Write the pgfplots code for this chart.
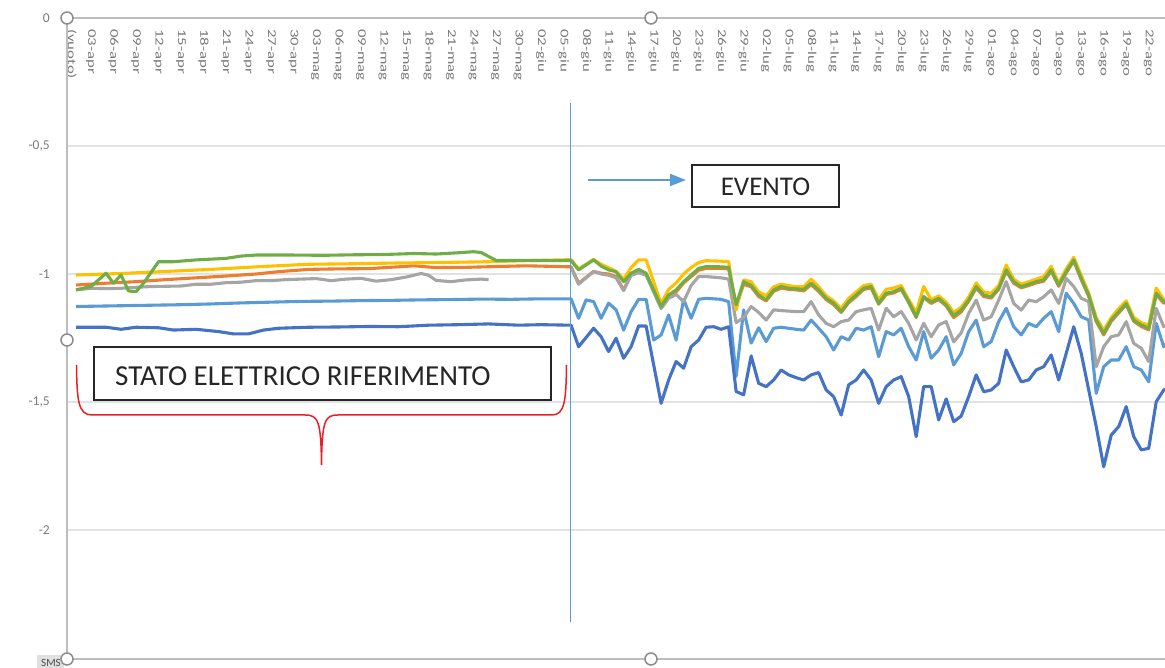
\documentclass[border=0pt]{standalone}
\usepackage{fontspec}
\setmainfont{Carlito}
\usepackage{pgfplots}
\pgfplotsset{compat=1.18}
\usetikzlibrary{arrows.meta}
\definecolor{lb}{HTML}{5B9BD5}
\definecolor{orc}{HTML}{ED7D31}
\definecolor{gyc}{HTML}{A5A5A5}
\definecolor{yec}{HTML}{FFC000}
\definecolor{db}{HTML}{4472C4}
\definecolor{grc}{HTML}{70AD47}
\definecolor{tickgray}{HTML}{7A7A7A}
\definecolor{gridgray}{HTML}{E2E2E2}
\definecolor{axgray}{HTML}{BDBDBD}
\definecolor{handlegray}{HTML}{8C8C8C}
\definecolor{bracered}{HTML}{E8202A}
\begin{document}
\begin{tikzpicture}
\useasboundingbox (0pt,0pt) rectangle (1165pt,668pt);
\clip (0pt,0pt) rectangle (1165pt,668pt);
\begin{axis}[
  at={(67pt,10pt)}, anchor=south west,
  scale only axis, width=1168pt, height=640pt,
  xmin=-3.2, xmax=152.5, ymin=-2.5, ymax=0,
  axis line style={draw=none},
  ymajorgrids, grid style={draw=gridgray, line width=1.5pt},
  major tick length=0pt,
  xtick={-2.6,0,3,...,141},
  xticklabels={(vuoto),03-apr,06-apr,09-apr,12-apr,15-apr,18-apr,21-apr,24-apr,27-apr,30-apr,03-mag,06-mag,09-mag,12-mag,15-mag,18-mag,21-mag,24-mag,27-mag,30-mag,02-giu,05-giu,08-giu,11-giu,14-giu,17-giu,20-giu,23-giu,26-giu,29-giu,02-lug,05-lug,08-lug,11-lug,14-lug,17-lug,20-lug,23-lug,26-lug,29-lug,01-ago,04-ago,07-ago,10-ago,13-ago,16-ago,19-ago,22-ago},
  xticklabel pos=upper,
  xticklabel style={yshift=-11pt, rotate=-90, anchor=west, inner sep=0pt, xscale=1.4, font=\fontsize{12}{12}\selectfont, text=tickgray},
  ytick={-2,-1.5,-1,-0.5,0},
  yticklabels={-2,{-1,5},-1,{-0,5},0},
  yticklabel style={anchor=east, inner sep=1pt, xshift=-16pt, font=\fontsize{13.5}{13.5}\selectfont, text=tickgray},
  every axis plot/.append style={line width=3.1pt, line join=round, mark=none},
]
% light blue
\addplot[lb] coordinates {(-2,-1.127) (4,-1.124) (8,-1.122) (12,-1.12) (16,-1.117) (20,-1.113) (24,-1.11) (28,-1.107) (32,-1.106) (36,-1.104) (40,-1.103) (44,-1.101) (48,-1.1) (52,-1.098) (56,-1.099) (60,-1.097) (64,-1.097)
(65,-1.173) (66,-1.101) (67,-1.108) (68,-1.173) (69,-1.114) (70,-1.14) (71,-1.219) (72,-1.147) (73,-1.099) (74,-1.099) (75,-1.258) (76,-1.238) (77,-1.16) (78,-1.258) (79,-1.099) (80,-1.173) (81,-1.099) (82,-1.095) (83,-1.097) (84,-1.099) (85,-1.108) (86,-1.40) (87,-1.14) (88,-1.27) (89,-1.21) (90,-1.264) (91,-1.212) (92,-1.208) (93,-1.212) (94,-1.216) (95,-1.219) (96,-1.18) (97,-1.212) (98,-1.245) (99,-1.297) (100,-1.245) (101,-1.258) (102,-1.212) (103,-1.219) (104,-1.206) (105,-1.323) (106,-1.225) (107,-1.238) (108,-1.212) (109,-1.284) (110,-1.336) (111,-1.225) (112,-1.329) (113,-1.297) (114,-1.245) (115,-1.355) (116,-1.31) (117,-1.225) (118,-1.18) (119,-1.284) (120,-1.264) (121,-1.186) (122,-1.134) (123,-1.206) (124,-1.238) (125,-1.193) (126,-1.206) (127,-1.173) (128,-1.147) (129,-1.225) (130,-1.075) (131,-1.115) (132,-1.167) (133,-1.18) (134,-1.466) (135,-1.362) (136,-1.336) (137,-1.336) (138,-1.284) (139,-1.362) (140,-1.375) (141,-1.421) (142,-1.193) (143,-1.284) (144,-1.25)};
% orange
\addplot[orc] coordinates {(-2,-1.043) (2,-1.036) (6,-1.03) (10,-1.022) (14,-1.015) (18,-1.008) (22,-1.0) (25,-0.991) (29,-0.982) (33,-0.98) (37,-0.979) (41,-0.972) (43,-0.968) (46,-0.975) (50,-0.974) (54,-0.971) (58,-0.968) (64,-0.972)
(65,-1.036) (67,-0.99) (68,-0.997) (69,-1.0) (70,-1.01) (71,-1.062) (72,-1.0) (73,-0.99) (74,-1.0) (76,-1.13) (77,-1.09) (78,-1.07) (79,-1.035) (80,-1.01) (81,-0.985) (82,-0.978) (84,-0.978) (85,-0.98) (86,-1.125) (87,-1.04) (88,-1.05) (89,-1.088) (90,-1.105) (91,-1.068) (92,-1.055) (93,-1.06) (94,-1.062) (95,-1.066) (96,-1.042) (97,-1.068) (98,-1.1) (99,-1.12) (100,-1.15) (101,-1.112) (102,-1.088) (103,-1.06) (104,-1.055) (105,-1.118) (106,-1.08) (107,-1.074) (108,-1.06) (109,-1.112) (110,-1.17) (111,-1.092) (112,-1.115) (113,-1.1) (114,-1.125) (115,-1.17) (116,-1.148) (117,-1.106) (118,-1.055) (119,-1.088) (120,-1.094) (121,-1.06) (122,-0.99) (123,-1.036) (124,-1.054) (125,-1.045) (126,-1.035) (127,-1.028) (128,-0.99) (129,-1.048) (130,-0.996) (131,-0.95) (132,-1.022) (133,-1.088) (134,-1.186) (135,-1.238) (136,-1.185) (137,-1.152) (138,-1.12) (139,-1.185) (140,-1.205) (141,-1.218) (142,-1.08) (143,-1.114) (144,-1.105)};
% gray (reference period)
\addplot[gyc] coordinates {(-2,-1.062) (0,-1.056) (2,-1.057) (4,-1.056) (6,-1.052) (8,-1.049) (10,-1.048) (12,-1.047) (14,-1.04) (16,-1.04) (18,-1.034) (20,-1.032) (22,-1.026) (24,-1.026) (26,-1.022) (28,-1.02) (30,-1.018) (32,-1.026) (34,-1.02) (36,-1.017) (38,-1.028) (40,-1.022) (42,-1.012) (44,-0.998) (45,-1.005) (46,-1.025) (48,-1.03) (50,-1.023) (52,-1.02) (53,-1.022)};
% gray (after event)
\addplot[gyc] coordinates {(64,-0.975) (65,-1.04) (67,-0.99) (68,-1.0) (69,-1.005) (70,-1.015) (71,-1.065) (72,-1.005) (73,-0.995) (74,-1.005) (76,-1.135) (77,-1.095) (78,-1.08) (79,-1.108) (80,-1.045) (81,-1.01) (82,-1.01) (84,-1.015) (85,-1.02) (86,-1.19) (87,-1.17) (88,-1.127) (89,-1.15) (90,-1.18) (91,-1.14) (92,-1.143) (93,-1.145) (94,-1.147) (95,-1.147) (96,-1.108) (97,-1.16) (98,-1.193) (99,-1.206) (100,-1.186) (101,-1.18) (102,-1.147) (103,-1.14) (104,-1.134) (105,-1.219) (106,-1.134) (107,-1.167) (108,-1.147) (109,-1.193) (110,-1.258) (111,-1.193) (112,-1.245) (113,-1.199) (114,-1.186) (115,-1.265) (116,-1.23) (117,-1.154) (118,-1.102) (119,-1.18) (120,-1.167) (121,-1.102) (122,-1.03) (123,-1.115) (124,-1.141) (125,-1.102) (126,-1.108) (127,-1.089) (128,-1.062) (129,-1.115) (130,-1.017) (131,-1.049) (132,-1.095) (133,-1.108) (134,-1.362) (135,-1.284) (136,-1.245) (137,-1.238) (138,-1.186) (139,-1.271) (140,-1.29) (141,-1.342) (142,-1.134) (143,-1.206) (144,-1.19)};
% yellow
\addplot[yec] coordinates {(-2,-1.004) (4,-0.998) (10,-0.99) (16,-0.982) (22,-0.972) (29,-0.962) (35,-0.96) (41,-0.957) (47,-0.955) (53,-0.952) (58,-0.948) (64,-0.944)
(65,-0.98) (67,-0.943) (68,-0.962) (69,-0.975) (70,-0.99) (71,-1.02) (72,-0.975) (73,-0.945) (74,-0.945) (76,-1.115) (77,-1.06) (78,-1.035) (79,-1.0) (80,-0.975) (81,-0.955) (82,-0.948) (84,-0.95) (85,-0.952) (86,-1.14) (87,-1.023) (88,-1.03) (89,-1.07) (90,-1.085) (91,-1.05) (92,-1.04) (93,-1.045) (94,-1.05) (95,-1.05) (96,-1.02) (97,-1.05) (98,-1.085) (99,-1.105) (100,-1.135) (101,-1.095) (102,-1.07) (103,-1.045) (104,-1.04) (105,-1.1) (106,-1.06) (107,-1.055) (108,-1.045) (109,-1.1) (110,-1.15) (111,-1.049) (112,-1.1) (113,-1.085) (114,-1.11) (115,-1.15) (116,-1.13) (117,-1.09) (118,-1.035) (119,-1.07) (120,-1.075) (121,-1.045) (122,-0.965) (123,-1.02) (124,-1.04) (125,-1.03) (126,-1.02) (127,-1.01) (128,-0.97) (129,-1.035) (130,-0.98) (131,-0.935) (132,-1.005) (133,-1.075) (134,-1.17) (135,-1.22) (136,-1.17) (137,-1.135) (138,-1.105) (139,-1.17) (140,-1.19) (141,-1.2) (142,-1.055) (143,-1.1) (144,-1.09)};
% dark blue
\addplot[db] coordinates {(-2,-1.208) (2,-1.208) (4,-1.216) (6,-1.208) (9,-1.21) (11,-1.219) (14,-1.216) (17,-1.225) (19,-1.234) (21,-1.234) (23,-1.219) (25,-1.212) (29,-1.208) (33,-1.207) (37,-1.205) (41,-1.206) (45,-1.2) (49,-1.198) (53,-1.195) (57,-1.2) (60,-1.198) (64,-1.2)
(65,-1.284) (67,-1.212) (68,-1.245) (69,-1.303) (70,-1.251) (71,-1.329) (72,-1.284) (73,-1.203) (74,-1.203) (76,-1.505) (77,-1.414) (78,-1.342) (79,-1.368) (80,-1.284) (81,-1.258) (82,-1.208) (83,-1.206) (84,-1.216) (85,-1.206) (86,-1.459) (87,-1.472) (88,-1.32) (89,-1.427) (90,-1.44) (91,-1.414) (92,-1.375) (93,-1.394) (94,-1.405) (95,-1.414) (96,-1.394) (97,-1.385) (98,-1.453) (99,-1.479) (100,-1.551) (101,-1.433) (102,-1.414) (103,-1.375) (104,-1.414) (105,-1.505) (106,-1.44) (107,-1.414) (108,-1.401) (109,-1.479) (110,-1.635) (111,-1.44) (112,-1.44) (113,-1.57) (114,-1.488) (115,-1.577) (116,-1.555) (117,-1.479) (118,-1.394) (119,-1.46) (120,-1.453) (121,-1.427) (122,-1.297) (123,-1.362) (124,-1.421) (125,-1.414) (126,-1.375) (127,-1.362) (128,-1.316) (129,-1.414) (130,-1.31) (131,-1.206) (132,-1.31) (133,-1.453) (134,-1.596) (135,-1.753) (136,-1.629) (137,-1.596) (138,-1.518) (139,-1.635) (140,-1.687) (141,-1.681) (142,-1.499) (143,-1.453) (144,-1.44)};
% green
\addplot[grc] coordinates {(-2,-1.062) (0,-1.049) (2,-0.997) (3,-1.036) (4,-1.004) (5,-1.066) (6,-1.069) (7,-1.036) (9,-0.952) (11,-0.952) (14,-0.945) (16,-0.942) (18,-0.939) (20,-0.93) (22,-0.926) (27,-0.926) (31,-0.927) (35,-0.925) (39,-0.924) (43,-0.92) (46,-0.922) (49,-0.917) (51,-0.913) (52,-0.916) (54,-0.947) (58,-0.947) (64,-0.948)
(65,-0.984) (67,-0.945) (68,-0.969) (69,-0.984) (70,-0.991) (71,-1.03) (72,-0.997) (73,-0.982) (74,-0.997) (76,-1.127) (77,-1.082) (78,-1.062) (79,-1.03) (80,-1.004) (81,-0.978) (82,-0.971) (84,-0.972) (85,-0.974) (86,-1.12) (87,-1.03) (88,-1.045) (89,-1.082) (90,-1.101) (91,-1.062) (92,-1.049) (93,-1.056) (94,-1.058) (95,-1.06) (96,-1.036) (97,-1.062) (98,-1.095) (99,-1.114) (100,-1.147) (101,-1.108) (102,-1.082) (103,-1.056) (104,-1.049) (105,-1.114) (106,-1.075) (107,-1.069) (108,-1.056) (109,-1.108) (110,-1.167) (111,-1.088) (112,-1.11) (113,-1.095) (114,-1.121) (115,-1.163) (116,-1.141) (117,-1.102) (118,-1.049) (119,-1.082) (120,-1.089) (121,-1.056) (122,-0.984) (123,-1.03) (124,-1.049) (125,-1.04) (126,-1.03) (127,-1.023) (128,-0.984) (129,-1.043) (130,-0.991) (131,-0.945) (132,-1.017) (133,-1.082) (134,-1.18) (135,-1.232) (136,-1.18) (137,-1.147) (138,-1.115) (139,-1.18) (140,-1.199) (141,-1.212) (142,-1.075) (143,-1.108) (144,-1.1)};
\end{axis}
\begin{scope}[x=1pt,y=-1pt,shift={(0pt,668pt)}]
  % plot area frame
  \draw[axgray, line width=2.2pt] (67,18) -- (1170,18);
  \draw[axgray, line width=1.6pt] (67,18) -- (67,659);
  \draw[axgray, line width=1.8pt] (67,659) -- (1170,659);
  % event line and arrow
  \draw[lb, line width=1.5pt] (570.5,103) -- (570.5,622);
  \draw[lb, line width=2pt, -{Triangle[length=16pt,width=12pt]}] (588,180) -- (686,180);
  % EVENTO box
  \draw[black!85, line width=1.6pt, fill=white] (692,165) rectangle (839,207);
  \node[font=\fontsize{27}{27}\selectfont, text=black!85] at (765.5,187) {EVENTO};
  % STATO box
  \draw[black!85, line width=1.6pt, fill=white] (94,347) rectangle (551,400);
  \node[anchor=west, inner sep=0pt, font=\fontsize{29}{29}\selectfont, text=black!85] at (115,376) {STATO ELETTRICO RIFERIMENTO};
  % brace
  \draw[bracered, line width=1.5pt] (76.5,365) .. controls (77,400) and (78,415) .. (92,415) -- (305,415) .. controls (318,415) and (321,420) .. (321.5,465) .. controls (322,420) and (325,415) .. (338,415) -- (552,415) .. controls (565,415) and (566,400) .. (566.5,365);
  % SMS field button
  \fill[black!12] (37,655) rectangle (64,680);
  \node[font=\fontsize{11}{11}\selectfont, text=black!70, anchor=north, inner sep=0pt] at (51,659) {SMS};
  % selection handles
  \foreach \p in {(67,18),(651,18),(67,340),(67,659),(651,659)}
    \draw[handlegray, line width=1.5pt, fill=white] \p circle[radius=6pt];
\end{scope}
\end{tikzpicture}
\end{document}
